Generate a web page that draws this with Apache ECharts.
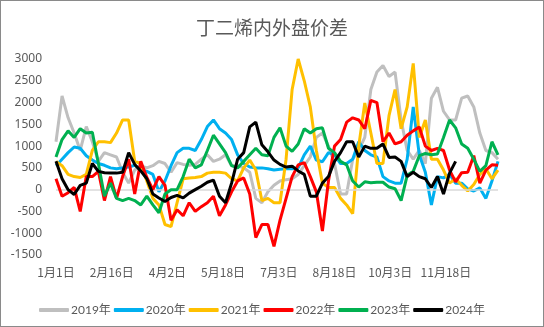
<!DOCTYPE html>
<html>
<head>
<meta charset="utf-8">
<script src="https://cdn.jsdelivr.net/npm/echarts@6/dist/echarts.min.js"></script>
<style>
html,body{margin:0;padding:0;background:#fff;}
#c{width:544px;height:327px;box-sizing:border-box;border:1px solid #8a8a8a;}
</style>
</head>
<body>
<div id="c"></div>
<script>
// sampling: one value every 5 days starting 1月1日
const stepDays = 5;
const tickLabels = ["1月1日","2月16日","4月2日","5月18日","7月3日","8月18日","10月3日","11月18日"];
const seriesNames = ["2019年","2020年","2021年","2022年","2023年","2024年"];

const y2019 = [1100,2150,1650,1300,900,1450,1100,650,850,800,750,400,150,450,550,500,550,650,600,400,
  620,580,560,580,700,800,650,700,800,550,550,500,400,-200,-300,-50,100,200,230,250,
  350,550,750,1200,1300,1000,600,-100,-100,700,900,1200,2300,2700,2850,2600,2700,1600,900,700,
  900,600,2100,2350,1800,1600,1600,2100,2150,1900,1300,900,850,700];
const y2020 = [550,700,850,980,950,780,680,600,560,500,480,500,520,560,460,420,350,-50,200,550,
  850,950,950,900,1150,1450,1600,1400,1300,1150,800,600,520,500,500,480,450,470,480,480,
  500,800,1000,680,640,850,800,600,600,700,1100,900,800,750,300,200,150,150,700,1900,
  800,400,-350,300,270,350,150,150,20,-30,40,-200,200,650];
const y2021 = [650,550,350,300,280,350,900,1100,1100,1080,1300,1600,1600,650,600,200,-200,-350,-800,-850,
  -300,250,270,280,300,380,400,400,380,250,200,500,680,450,-250,-200,-300,-300,700,2300,
  3000,2500,1900,900,150,50,50,-200,-350,-550,1000,1990,1300,600,600,1700,2300,1400,1900,2900,
  1200,1600,700,700,450,150,250,100,-30,120,350,480,250,450];
const y2022 = [250,-150,-70,50,-500,300,300,420,-250,300,-200,300,700,-100,650,280,0,300,100,-700,
  -460,-600,-300,-500,-390,-300,-150,-600,-350,-50,200,270,-100,-1100,-800,-800,-1300,-700,-200,300,
  570,620,300,-50,-950,200,1000,1150,1550,1650,1600,1400,2050,2000,1100,1300,1050,1100,1250,1350,
  1440,1000,900,950,900,450,180,390,400,780,150,450,570,560];
const y2023 = [750,1150,1350,1200,1400,1300,1320,600,-150,150,-200,-250,-200,-250,-350,-150,-350,-530,-100,0,
  0,300,700,500,570,900,1250,1050,850,550,500,650,800,950,800,780,1200,1420,1000,880,
  1050,1400,1300,1400,1420,950,850,650,570,200,60,180,160,170,170,60,20,-250,330,420,
  780,830,800,820,1200,1600,1420,1050,950,700,420,550,1100,800];
const y2024 = [650,250,0,-110,100,150,600,420,390,380,380,400,850,580,430,250,-100,-190,-270,-180,
  -130,-190,-80,0,80,170,220,-150,-300,150,700,850,1440,1550,1030,870,680,580,520,540,
  430,350,-150,-150,150,300,650,850,1100,1100,750,1000,950,950,1050,740,750,650,300,400,
  300,250,50,300,-100,380,650];

const yearData = [y2019,y2020,y2021,y2022,y2023,y2024];
const colors = ["#BFBFBF","#00B0F0","#FFC000","#FF0000","#00B050","#000000"];

const chart = echarts.init(document.getElementById('c'), null, {renderer:'canvas'});
const series = seriesNames.map((name, k) => ({
  name: name,
  type: 'line',
  showSymbol: false,
  symbol: 'none',
  lineStyle: {width: 3, color: colors[k]},
  itemStyle: {color: colors[k]},
  animation: false,
  data: yearData[k].map((v, i) => [i * stepDays, v]),
  markLine: k === 0 ? {
    silent: true, symbol: ['none','none'], label: {show:false},
    lineStyle: {color:'#D9D9D9', width: 1.5, type:'solid'},
    data: [{yAxis: 0}]
  } : undefined,
  z: 2 + k
}));

chart.setOption({
  animation: false,
  title: {
    text: '丁二烯内外盘价差', left: 'center', top: 12,
    textStyle: {fontSize: 19, fontWeight: 'normal', color: '#595959', fontFamily: '"Noto Sans CJK SC", sans-serif'}
  },
  grid: {left: 55, right: 45, top: 58, bottom: 71},
  legend: {
    left: 33, top: 298, itemWidth: 30, itemHeight: 4, itemGap: 3, icon: 'roundRect',
    textStyle: {fontSize: 12, color: '#595959', fontFamily: 'Lato, "Noto Sans CJK SC", sans-serif', padding: [0,0,0,-3]},
    data: seriesNames
  },
  xAxis: {
    type: 'value', min: 0, max: 365, interval: 46,
    axisLine: {show: false}, axisTick: {show: false}, splitLine: {show: false},
    axisLabel: {
      margin: 11, fontSize: 12, color: '#595959', fontFamily: '"Noto Sans CJK SC", sans-serif',
      showMaxLabel: false,
      formatter: v => { const i = Math.round(v / 46); return (v % 46 === 0 && i < tickLabels.length) ? tickLabels[i] : ''; }
    }
  },
  yAxis: {
    type: 'value', min: -1500, max: 3000, interval: 500,
    axisLine: {show: false}, axisTick: {show: false}, splitLine: {show: false},
    axisLabel: {margin: 14, fontSize: 12, color: '#595959', fontFamily: '"Noto Sans", sans-serif',
      formatter: v => String(v)}
  },
  series: series
});
</script>
</body>
</html>
